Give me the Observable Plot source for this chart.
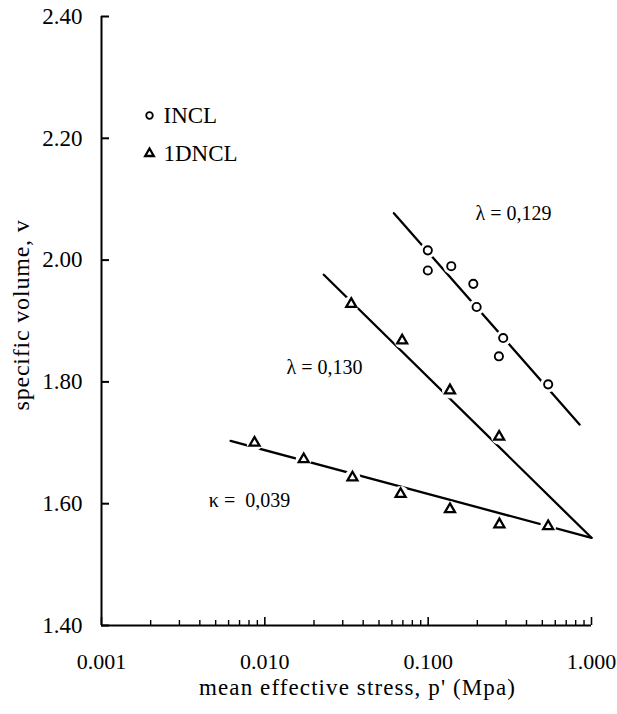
<!DOCTYPE html>
<html><head><meta charset="utf-8">
<script src="https://cdn.jsdelivr.net/npm/d3@7"></script>
<script src="https://cdn.jsdelivr.net/npm/@observablehq/plot@0.6"></script>
<style>body{margin:0;background:#fff}</style>
</head><body><div id="chart"></div>
<script>
// INCL (isotropic normal compression) points
const inclP = [0.0995, 0.0995, 0.1385, 0.189, 0.198, 0.288, 0.271, 0.543];
const inclV = [2.016, 1.983, 1.990, 1.961, 1.923, 1.872, 1.842, 1.796];
// 1DNCL loading points
const dnclP = [0.0338, 0.0693, 0.136, 0.272];
const dnclV = [1.928, 1.868, 1.786, 1.710];
// 1DNCL unloading points
const unloadP = [0.00865, 0.0173, 0.0344, 0.0678, 0.136, 0.273, 0.543];
const unloadV = [1.700, 1.673, 1.643, 1.616, 1.591, 1.566, 1.563];
// fitted lines (end points)
const inclLineP = [0.0617, 0.845];
const inclLineV = [2.077, 1.730];
const lambdaLineP = [0.02296, 1.0];
const lambdaLineV = [1.976, 1.544];
const kappaLineP = [0.00617, 1.0];
const kappaLineV = [1.703, 1.544];
// axes
const yTicks = [1.4, 1.6, 1.8, 2.0, 2.2, 2.4];
const xMajor = [0.001, 0.01, 0.1, 1];
const xMinor = [2,3,4,5,6,7,8,9].flatMap(m => [0.001, 0.01, 0.1].map(d => m * d));
const legendLabels = ["INCL", "1DNCL"];
const annoText = ["λ = 0,129", "λ = 0,130", "κ =\u00a0 0,039"];
const annoP = [0.333, 0.0232, 0.00806];
const annoV = [2.076, 1.824, 1.6056];
const xTitle = "mean effective stress, p' (Mpa)";
const yTitle = "specific volume, v";

const incl = inclP.map((p, i) => ({p, v: inclV[i]}));
const tri = [
  ...dnclP.map((p, i) => ({p, v: dnclV[i]})),
  ...unloadP.map((p, i) => ({p, v: unloadV[i]}))
];
const lines = [
  ...inclLineP.map((p, i) => ({p, v: inclLineV[i], k: "incl"})),
  ...lambdaLineP.map((p, i) => ({p, v: lambdaLineV[i], k: "lambda"})),
  ...kappaLineP.map((p, i) => ({p, v: kappaLineV[i], k: "kappa"}))
];
const annos = annoText.map((t, i) => ({t, p: annoP[i], v: annoV[i]}));

const font = '"Liberation Serif", "Times New Roman", serif';

const chart = Plot.plot({
  width: 617, height: 714,
  marginLeft: 101, marginRight: 26, marginTop: 16, marginBottom: 89,
  style: {fontFamily: font, fontSize: "23px", color: "black", background: "white", overflow: "visible"},
  x: {type: "log", domain: [0.001, 1]},
  y: {domain: [1.4, 2.4]},
  marks: [
    Plot.axisY({ticks: yTicks, tickSize: 0, tickPadding: 19, tickFormat: d => d.toFixed(2), label: null, fontSize: 23}),
    Plot.axisY({ticks: yTicks, tickSize: -8, fill: "none", label: null, strokeWidth: 2}),
    Plot.axisX({ticks: xMajor, tickSize: 0, tickPadding: 28, tickFormat: d => d.toFixed(3), label: null, fontSize: 22}),
    Plot.axisX({ticks: xMajor, tickSize: -8, fill: "none", label: null, strokeWidth: 1.6}),
    Plot.axisX({ticks: xMinor, tickSize: -5, fill: "none", label: null, strokeWidth: 1.4}),
    Plot.ruleX([0.001], {strokeWidth: 2}),
    Plot.ruleY([1.4], {strokeWidth: 2}),
    Plot.line(lines, {x: "p", y: "v", z: "k", stroke: "black", strokeWidth: 2.3}),
    Plot.dot([...incl, ...tri], {x: "p", y: "v", r: 8, fill: "white", stroke: "none"}),
    Plot.dot(incl, {x: "p", y: "v", r: 4.1, stroke: "black", strokeWidth: 1.9, fill: "white"}),
    Plot.dot(tri, {x: "p", y: "v", symbol: "triangle", r: 3.7, stroke: "black", strokeWidth: 2.3, fill: "white"}),
    // legend
    Plot.dot([legendLabels[0]], {frameAnchor: "top-left", dx: 48, dy: 99, r: 3.3, stroke: "black", strokeWidth: 1.8, fill: "white"}),
    Plot.dot([legendLabels[1]], {frameAnchor: "top-left", dx: 48, dy: 137, r: 3.2, symbol: "triangle", stroke: "black", strokeWidth: 2.3, fill: "white"}),
    Plot.text([legendLabels[0]], {frameAnchor: "top-left", dx: 62, dy: 99, text: d => d, textAnchor: "start", lineAnchor: "middle", fontSize: 23}),
    Plot.text([legendLabels[1]], {frameAnchor: "top-left", dx: 62, dy: 137, text: d => d, textAnchor: "start", lineAnchor: "middle", fontSize: 23}),
    // annotations
    Plot.text(annos, {x: "p", y: "v", text: "t", fontSize: 20}),
    // axis titles
    Plot.text([xTitle], {frameAnchor: "bottom", dx: 11, dy: 62, text: d => d, textAnchor: "middle", lineAnchor: "middle", fontSize: 23}),
    Plot.text([yTitle], {frameAnchor: "left", dx: -80, dy: -6, rotate: -90, text: d => d, textAnchor: "middle", lineAnchor: "middle", fontSize: 24})
  ]
});
document.getElementById("chart").appendChild(chart);
// slightly wider letter spacing for the axis titles, as in the reference
d3.select(chart).selectAll("text").filter(function() {
  return this.textContent === xTitle || this.textContent === yTitle;
}).style("letter-spacing", function() { return this.textContent === xTitle ? "1.1px" : "0.8px"; });
</script>
</body></html>
